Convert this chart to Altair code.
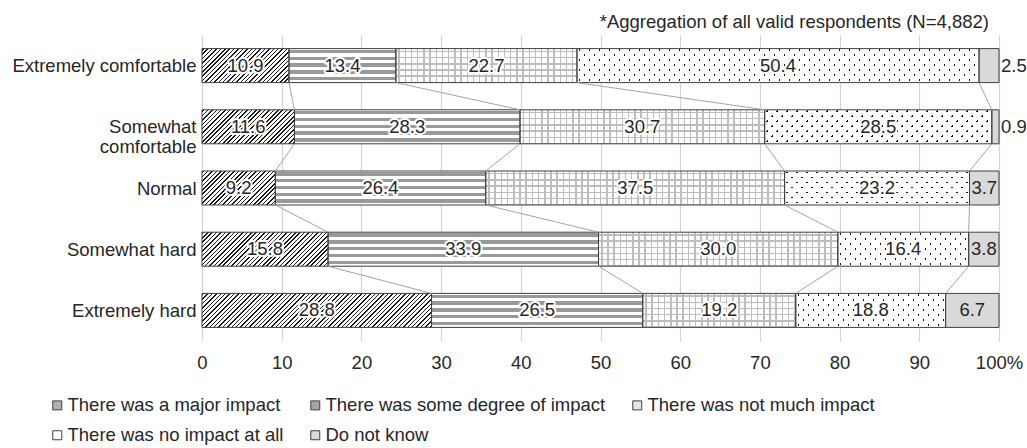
import json
import altair as alt

# ---------------- data ----------------
rows = ["Extremely comfortable", "Somewhat comfortable", "Normal", "Somewhat hard", "Extremely hard"]
cats = [
    "There was a major impact",
    "There was some degree of impact",
    "There was not much impact",
    "There was no impact at all",
    "Do not know",
]
major = [10.9, 11.6, 9.2, 15.8, 28.8]
some = [13.4, 28.3, 26.4, 33.9, 26.5]
notmuch = [22.7, 30.7, 37.5, 30.0, 19.2]
noimpact = [50.4, 28.5, 23.2, 16.4, 18.8]
dnk = [2.5, 0.9, 3.7, 3.8, 6.7]
x_ticks = [0, 10, 20, 30, 40, 50, 60, 70, 80, 90, 100]
note = "*Aggregation of all valid respondents (N=4,882)"

# ---------------- style ----------------
FONT = "Liberation Sans"
FS = 18.5
TXT = "#262626"
PLOT_W, PLOT_H = 797, 306
PX = PLOT_W / 100.0
BAR_H = 34
HALF = BAR_H / 2
legend_fill = ["#b0b0b0", "#a6a6a6", "#e6e6e6", "#ffffff", "#d9d9d9"]
CLEAR = "rgba(255,255,255,0)"


def stripe_stops(length, period, width, fg, bg, phase=0.0):
    stops = [{"offset": 0, "color": bg}]
    pos = phase - period
    while pos < length:
        s = max(pos, 0.0)
        e = min(pos + width, length)
        if e > 0 and s < length:
            so, eo = round(s / length, 5), round(e / length, 5)
            stops += [
                {"offset": so, "color": bg},
                {"offset": so, "color": fg},
                {"offset": eo, "color": fg},
                {"offset": eo, "color": bg},
            ]
        pos += period
    stops.append({"offset": 1, "color": bg})
    return stops


def diag_up(w, h, period, width, fg, bg, phase=1.0):
    # "/" lines: t = (x + y) / (w + h)
    s = (w + h) / (w * w + h * h)
    return {"gradient": "linear", "x1": 0, "y1": 0, "x2": s * w, "y2": s * h,
            "stops": stripe_stops(w + h, period, width, fg, bg, phase)}


def diag_down(w, h, period, width, fg, bg, phase=1.0):
    # "\" lines: t = (x - y + h) / (w + h)
    s = (w + h) / (w * w + h * h)
    return {"gradient": "linear", "x1": 0, "y1": 1, "x2": s * w, "y2": 1 - s * h,
            "stops": stripe_stops(w + h, period, width, fg, bg, phase)}


def hstripes(h, period, width, fg, bg, phase):
    return {"gradient": "linear", "x1": 1, "y1": 0, "x2": 1, "y2": 1,
            "stops": stripe_stops(h, period, width, fg, bg, phase)}


def vstripes(w, period, width, fg, bg, phase):
    return {"gradient": "linear", "x1": 0, "y1": 0, "x2": 1, "y2": 0,
            "stops": stripe_stops(w, period, width, fg, bg, phase)}


def patterns(k, w, h):
    if k == 0:
        return diag_up(w, h, 4.4, 1.5, "#1a1a1a", "#ffffff"), None
    if k == 1:
        return hstripes(h, 6.8, 3.4, "#999999", "#ffffff", 1.2), None
    if k == 2:
        return (hstripes(h, 6.2, 1.5, "#bdbdbd", "#ffffff", 2.0),
                vstripes(w, 6.2, 1.5, "#bdbdbd", CLEAR, 2.5))
    if k == 3:
        return (diag_up(w, h, 10.0, 2.2, "#111111", "#ffffff", 3.0),
                diag_down(w, h, 10.0, 2.2, CLEAR, "#ffffff", 4.0))
    return None, None


series = [major, some, notmuch, noimpact, dnk]
records, links, ends_all = [], [], []
for i, r in enumerate(rows):
    vals = [s[i] for s in series]
    tot = sum(vals)
    c = 0.0
    ends = []
    for k, v in enumerate(vals):
        start = c / tot * 100
        c += v
        end = c / tot * 100
        ends.append(end)
        ga, gb = patterns(k, (end - start) * PX, BAR_H)
        rec = {"row": i, "cat": cats[k], "k": k, "v": v, "start": start, "end": end,
               "mid": (start + end) / 2, "outside": bool(k == 4 and v < 3)}
        if ga is not None:
            rec["gA"] = ga
        if gb is not None:
            rec["gB"] = gb
        records.append(rec)
    ends_all.append(ends)
for i in range(len(rows) - 1):
    for k in range(4):
        links.append({"row": i, "row2": i + 1, "x": ends_all[i][k], "x2": ends_all[i + 1][k]})

bars = alt.Data(values=records)
linkdata = alt.Data(values=links)

label_lines = [["Somewhat", "comfortable"] if r == "Somewhat comfortable" else r for r in rows]

x_axis = alt.Axis(values=x_ticks, grid=True, gridColor="#d4d4d4", gridWidth=1.2,
                  ticks=False, tickSize=0, domain=False, title=None,
                  labelExpr="datum.value == 100 ? '100%' : datum.label",
                  labelFontSize=FS, labelFont=FONT, labelColor=TXT, labelPadding=12,
                  labelFlush=False, labelLimit=300)
y_axis = alt.Axis(values=list(range(len(rows))), grid=False, ticks=False, tickSize=0,
                  domain=False, title=None,
                  labelExpr=json.dumps(label_lines) + "[datum.value]",
                  labelFontSize=FS, labelFont=FONT, labelColor=TXT, labelPadding=6,
                  labelLimit=300, labelLineHeight=20)
xs = alt.Scale(domain=[0, 100], nice=False, zero=False)
ys = alt.Scale(domain=[-0.5, len(rows) - 0.5], reverse=True, nice=False, zero=False)


def X(f):
    return alt.X(f, type="quantitative", scale=xs, axis=x_axis)


Y = alt.Y("row", type="quantitative", scale=ys, axis=y_axis)

base = alt.Chart(bars).mark_rect(yOffset=-HALF, y2Offset=HALF).encode(
    x=X("start"), x2="end", y=Y, y2="row",
    fill=alt.Fill("cat:N", scale=alt.Scale(domain=cats, range=legend_fill),
                  legend=alt.Legend(title=None, orient="none", legendX=-154, legendY=361,
                                    direction="horizontal", columns=3, symbolType="square",
                                    symbolSize=81, symbolStrokeColor="#404040",
                                    symbolStrokeWidth=1, labelFontSize=FS, labelFont=FONT,
                                    labelColor=TXT, labelLimit=400, labelOffset=1,
                                    columnPadding=22, rowPadding=11, padding=0)),
)
layerA = alt.Chart(bars).mark_rect(yOffset=-HALF, y2Offset=HALF).encode(
    x=X("start"), x2="end", y=Y, y2="row",
    fill=alt.Fill("gA:N", scale=None),
).transform_filter("datum.k < 4")
layerB = alt.Chart(bars).mark_rect(yOffset=-HALF, y2Offset=HALF).encode(
    x=X("start"), x2="end", y=Y, y2="row",
    fill=alt.Fill("gB:N", scale=None),
).transform_filter("datum.k == 2 || datum.k == 3")
outline = alt.Chart(bars).mark_rect(yOffset=-HALF, y2Offset=HALF, fill="transparent",
                                    stroke="#404040", strokeWidth=1).encode(
    x=X("start"), x2="end", y=Y, y2="row",
)
rules = alt.Chart(linkdata).mark_rule(yOffset=HALF, y2Offset=-HALF, color="#a3a3a3",
                                      strokeWidth=1).encode(
    x=X("x"), x2="x2", y=Y, y2="row2",
)
halo = alt.Chart(bars).mark_text(font=FONT, fontSize=FS, baseline="middle", align="center",
                                 stroke="white", strokeWidth=4, strokeJoin="round",
                                 color="white").encode(
    x=X("mid"), y=Y, text=alt.Text("v:Q", format=".1f"),
).transform_filter("datum.k < 4")
labels = alt.Chart(bars).mark_text(font=FONT, fontSize=FS, baseline="middle", align="center",
                                   color=TXT).encode(
    x=X("mid"), y=Y, text=alt.Text("v:Q", format=".1f"),
).transform_filter("!datum.outside")
out_labels = alt.Chart(bars).mark_text(font=FONT, fontSize=FS, baseline="middle", align="left",
                                       dx=2, color=TXT).encode(
    x=X("end"), y=Y, text=alt.Text("v:Q", format=".1f"),
).transform_filter("datum.outside")

chart = alt.layer(base, layerA, layerB, outline, rules, halo, labels, out_labels).properties(
    width=PLOT_W, height=PLOT_H,
    padding={"left": 202, "top": 35, "right": 28, "bottom": 107},
    autosize=alt.AutoSizeParams(type="none"),
    title=alt.TitleParams(note, anchor="end", frame="group", orient="top", offset=8, dx=-10,
                          dy=19, baseline="alphabetic", fontSize=FS, font=FONT,
                          fontWeight="normal", color=TXT),
).configure(font=FONT, background="white").configure_view(stroke=None)

chart.save("out.html", embed_options={"renderer": "svg", "actions": False})
